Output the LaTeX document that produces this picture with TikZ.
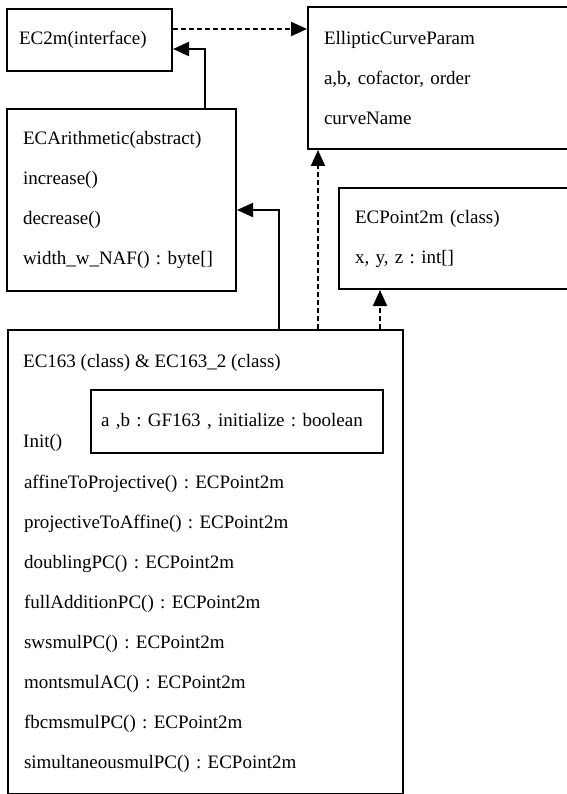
\documentclass[tikz,border=0pt]{standalone}
\usepackage{fontspec}
\setmainfont{Liberation Serif}
\frenchspacing
\usetikzlibrary{
    arrows.meta,
    positioning
}
\newcommand{\umlfont}{\fontsize{19}{40}\selectfont}
\tikzstyle{classbox} = [
    rectangle,
    draw=black,
    line width=2pt,
    inner xsep=16pt,
    inner ysep=0pt,
    align=left,
    anchor=north west,
    font=\umlfont
]
\tikzstyle{member} = [
    inner sep=0pt,
    anchor=base west,
    font=\umlfont
]
\tikzstyle{inherits} = [
    -{Triangle[length=16pt, width=14pt]},
    line width=2pt,
    draw=black
]
\tikzstyle{realizes} = [
    -{Triangle[length=16pt, width=14pt]},
    line width=2pt,
    dash pattern=on 5pt off 3pt,
    draw=black
]

\begin{document}
\begin{tikzpicture}[x=1pt, y=1pt]
        \useasboundingbox (0,0) rectangle (566,-794);

        \node[classbox, inner xsep=12pt, text width=141pt, minimum height=62pt] (ec2m) at (6,-8) {EC2m(interface)};
        \node[classbox, text width=229pt, minimum height=142pt] (param) at (307,-6) {EllipticCurveParam\\a,b, cofactor, order\\curveName};
        \node[classbox, text width=197pt, minimum height=182pt] (ecarith) at (6,-108) {ECArithmetic(abstract)\\increase()\\decrease()\\width\_w\_NAF() : byte[]};
        \node[classbox, text width=198pt, minimum height=101pt] (point) at (338,-187) {ECPoint2m (class)\\x, y, z : int[]};

        \node[classbox, minimum width=395pt, minimum height=464pt] (ec163) at (7,-329) {};
        \node[member] (title) at (23,-367) {EC163 (class) \& EC163\_2 (class)};
        \node[member] (init) at (23,-447) {Init()};
        \node[classbox, inner xsep=10pt, text width=272pt, minimum height=63pt] (fields) at (90,-389) {a ,b : GF163 , initialize : boolean};
        \node[classbox, draw=none, inner xsep=0pt, text width=360pt] (methods) at (23,-474) {affineToProjective() : ECPoint2m\\projectiveToAffine() : ECPoint2m\\doublingPC() : ECPoint2m\\fullAdditionPC() : ECPoint2m\\swsmulPC() : ECPoint2m\\montsmulAC() : ECPoint2m\\fbcmsmulPC() : ECPoint2m\\simultaneousmulPC() : ECPoint2m};

        \draw[realizes] ([yshift=11pt]ec2m.east) -- ([yshift=11pt]ec2m.east -| param.west);
        \draw[inherits] ([xshift=-32pt]ecarith.north east) |- ([yshift=-9pt]ec2m.east);
        \draw[inherits] ([xshift=-125pt]ec163.north east) |- ([yshift=-10pt]ecarith.east);
        \draw[realizes] ([xshift=11pt]param.south west |- ec163.north) -- ([xshift=11pt]param.south west);
        \draw[realizes] ([xshift=42pt]point.south west |- ec163.north) -- ([xshift=42pt]point.south west);
    \end{tikzpicture}
\end{document}
